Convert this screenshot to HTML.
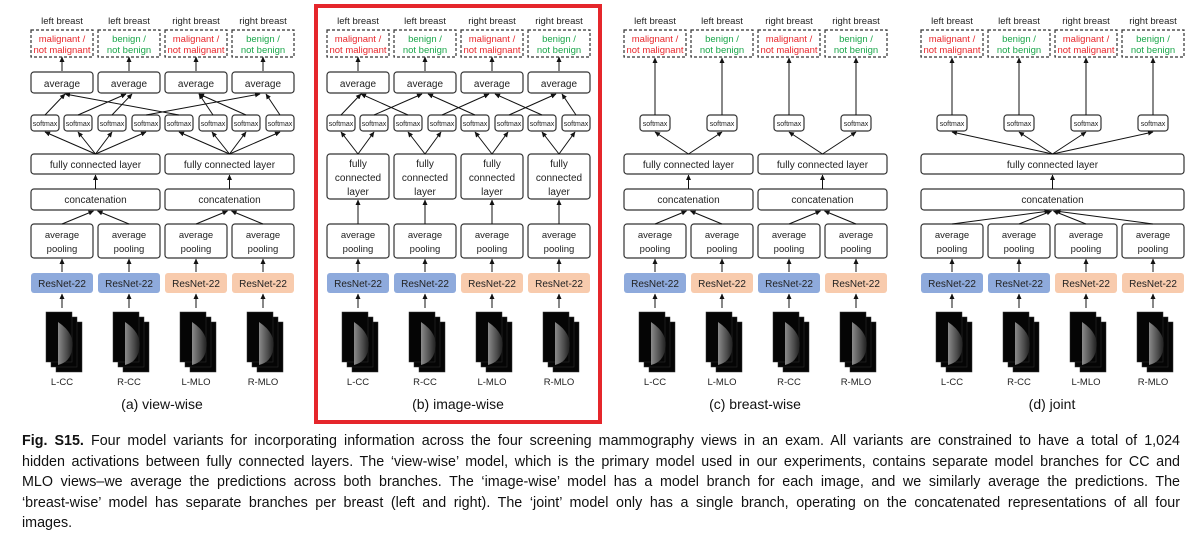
<!DOCTYPE html>
<html><head><meta charset="utf-8">
<style>
body{margin:0;background:#fff;width:1200px;height:544px;overflow:hidden;font-family:"Liberation Sans",sans-serif}
svg{position:absolute;left:0;top:0}
.cap{position:absolute;left:22px;width:1158px;font-size:14.3px;color:#111;line-height:20.5px;top:431px}
.cap div{text-align:justify;text-align-last:justify;white-space:nowrap}
.cap div.last{text-align-last:left}
</style></head><body>
<svg id="s" width="1200" height="430" xmlns="http://www.w3.org/2000/svg" font-family="Liberation Sans, sans-serif">
<defs><marker id="ar" markerWidth="6" markerHeight="6" refX="5" refY="3" orient="auto" markerUnits="userSpaceOnUse"><path d="M0,0.5 L5.5,3 L0,5.5z" fill="#111"/></marker>
<linearGradient id="g" x1="0" x2="1"><stop offset="0" stop-color="#999"/><stop offset="0.6" stop-color="#555"/><stop offset="1" stop-color="#222"/></linearGradient></defs>
<rect x="316" y="6" width="284" height="416" fill="none" stroke="#e5262b" stroke-width="4"/>
</svg>
<div class="cap">
<div><b>Fig. S15.</b> Four model variants for incorporating information across the four screening mammography views in an exam. All variants are constrained to have a total of 1,024</div>
<div>hidden activations between fully connected layers. The ‘view-wise’ model, which is the primary model used in our experiments, contains separate model branches for CC and</div>
<div>MLO views–we average the predictions across both branches. The ‘image-wise’ model has a model branch for each image, and we similarly average the predictions. The</div>
<div>‘breast-wise’ model has separate branches per breast (left and right). The ‘joint’ model only has a single branch, operating on the concatenated representations of all four</div>
<div class="last">images.</div>
</div>
<script>
(function(){
const s=document.getElementById('s');let h='';
const box=(x,y,w,hh,fill,dash,nost)=>h+=`<rect x="${x}" y="${y}" width="${w}" height="${hh}" rx="${dash?0:3}" fill="${fill||'#fff'}" stroke="${nost?'none':'#333'}" stroke-width="1.2" ${dash?'stroke-dasharray="3,2"':''}/>`;
const tx=(x,y,t,sz,c)=>h+=`<text x="${x}" y="${y}" font-size="${sz}" fill="${c||'#222'}" text-anchor="middle">${t}</text>`;
const ln=(x1,y1,x2,y2)=>h+=`<line x1="${x1}" y1="${y1}" x2="${x2}" y2="${y2}" stroke="#111" stroke-width="1" marker-end="url(#ar)"/>`;
const BL='#8eaadc',OR='#f8cbad';
const panels=[
 {o:0,t:'(a) view-wise',lab:['L-CC','R-CC','L-MLO','R-MLO'],col:[BL,BL,OR,OR],type:'a'},
 {o:296,t:'(b) image-wise',lab:['L-CC','R-CC','L-MLO','R-MLO'],col:[BL,BL,OR,OR],type:'b'},
 {o:593,t:'(c) breast-wise',lab:['L-CC','L-MLO','R-CC','R-MLO'],col:[BL,OR,BL,OR],type:'c'},
 {o:890,t:'(d) joint',lab:['L-CC','R-CC','L-MLO','R-MLO'],col:[BL,BL,OR,OR],type:'d'}];
const tops=['left breast','left breast','right breast','right breast'];
const outs=[['malignant /','not malignant','#e8262b'],['benign /','not benign','#1aa64a'],['malignant /','not malignant','#e8262b'],['benign /','not benign','#1aa64a']];
panels.forEach(p=>{
 const xs=[31,98,165,232].map(v=>v+p.o), W=62, cx=xs.map(v=>v+W/2);
 for(let i=0;i<4;i++){
  tx(cx[i],24,tops[i],9.5);
  box(xs[i],30,W,27,'#fff',1);
  tx(cx[i],42,outs[i][0],9.5,outs[i][2]);tx(cx[i],53,outs[i][1],9.5,outs[i][2]);
  const ix=cx[i]-16;
  for(let k=2;k>=0;k--){h+=`<rect x="${ix+k*5}" y="${312+k*5}" width="26" height="50" fill="#050505" stroke="#333" stroke-width="0.5"/>`;}
  h+=`<path d="M${ix+12} 322 q18 12 14 28 q-2 12 -14 15z" fill="url(#g)" opacity="0.9"/>`;
  tx(cx[i],385,p.lab[i],9.5);
  box(xs[i],273,W,20,p.col[i],0,1);
  tx(cx[i],287,'ResNet-22',10);
  ln(cx[i],308,cx[i],294);
  box(xs[i],224,W,34);tx(cx[i],238,'average',9.5);tx(cx[i],252,'pooling',9.5);
  ln(cx[i],272,cx[i],259);
 }
 tx(cx[0]+100,409,p.t,14,'#111');
 const smTop=115,smH=16;
 if(p.type=='a'||p.type=='b'){
  const sx=[31,64,98,132,165,199,232,266].map(v=>v+p.o), scx=sx.map(v=>v+14);
  sx.forEach((x,j)=>{box(x,smTop,28,smH);tx(scx[j],126,'softmax',7);});
  for(let i=0;i<4;i++){box(xs[i],72,W,21);tx(cx[i],87,'average',10);ln(cx[i],71,cx[i],57);}
  const m= p.type=='a'?[[0,0],[1,1],[2,1],[3,3],[4,0],[5,2],[6,2],[7,3]]:[[0,0],[1,1],[2,0],[3,2],[4,1],[5,3],[6,2],[7,3]];
  m.forEach(([a,b])=>ln(scx[a],smTop,cx[b]+(a<b*2?-3:3),94));
 }
 if(p.type=='a'){
  [xs[0],xs[2]].forEach((x,k)=>{box(x,154,129,20);tx(x+64.5,168,'fully connected layer',10);box(x,189,129,21);tx(x+64.5,203,'concatenation',10);
   ln(x+64.5,189,x+64.5,175);ln(cx[k*2],224,x+64.5-2,211);ln(cx[k*2+1],224,x+64.5+2,211);
   for(let j=0;j<4;j++)ln(x+64.5,154,[31,64,98,132][j]+p.o+k*134+14,132);});
 }
 if(p.type=='b'){
  for(let i=0;i<4;i++){box(xs[i],154,W,45);tx(cx[i],167,'fully',10);tx(cx[i],181,'connected',10);tx(cx[i],195,'layer',10);
   ln(cx[i],224,cx[i],200);ln(cx[i],154,xs[i]+14,132);ln(cx[i],154,xs[i]+47,132);}
 }
 if(p.type=='c'||p.type=='d'){
  for(let i=0;i<4;i++){box(cx[i]-15,smTop,30,smH);tx(cx[i],126,'softmax',7);ln(cx[i],smTop,cx[i],58);}
 }
 if(p.type=='c'){
  [xs[0],xs[2]].forEach((x,k)=>{box(x,154,129,20);tx(x+64.5,168,'fully connected layer',10);box(x,189,129,21);tx(x+64.5,203,'concatenation',10);
   ln(x+64.5,189,x+64.5,175);ln(cx[k*2],224,x+64.5-2,211);ln(cx[k*2+1],224,x+64.5+2,211);
   ln(x+64.5,154,cx[k*2],132);ln(x+64.5,154,cx[k*2+1],132);});
 }
 if(p.type=='d'){
  const x=xs[0],w=263,m=x+w/2;
  box(x,154,w,20);tx(m,168,'fully connected layer',10);box(x,189,w,21);tx(m,203,'concatenation',10);
  ln(m,189,m,175);for(let i=0;i<4;i++){ln(cx[i],224,m+(i-1.5)*2,211);ln(m,154,cx[i],132);}
 }
});
s.insertAdjacentHTML('beforeend',h);
})();
</script>
</body></html>
